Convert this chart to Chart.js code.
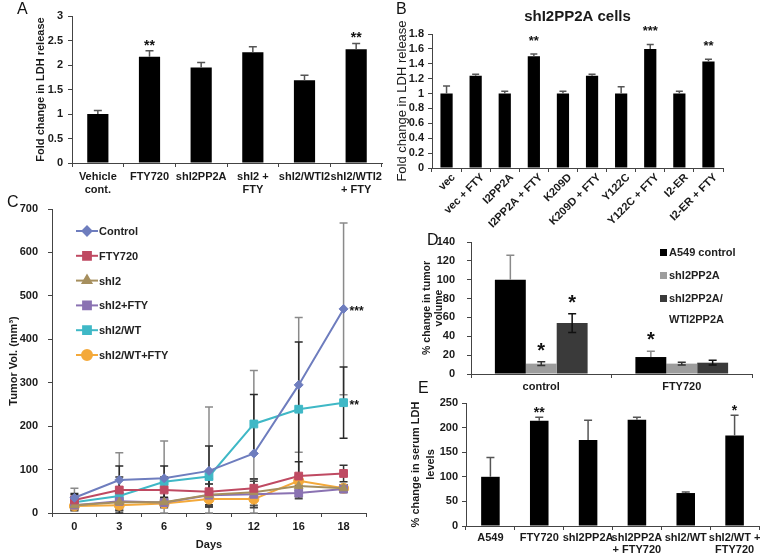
<!DOCTYPE html>
<html>
<head>
<meta charset="utf-8">
<title>LDH y volumen tumoral</title>
<script src="https://cdn.jsdelivr.net/npm/chart.js@4.4.1/dist/chart.umd.min.js"></script>
<style>
  html, body { margin: 0; padding: 0; background: #fff; }
  #pagina { position: relative; width: 760px; height: 559px; overflow: hidden; font-family: "Liberation Sans", Arial, sans-serif; }
  .panel { position: absolute; }
  .letra { position: absolute; font-size: 16px; line-height: 16px; color: #111; }
</style>
</head>
<body>
<div id="pagina">
  <div class="panel" style="left:0px;top:0px;width:388px;height:200px"><canvas id="grafA"></canvas></div>
  <div class="panel" style="left:380px;top:0px;width:380px;height:262px"><canvas id="grafB"></canvas></div>
  <div class="panel" style="left:0px;top:200px;width:380px;height:359px"><canvas id="grafC"></canvas></div>
  <div class="panel" style="left:400px;top:228px;width:360px;height:168px"><canvas id="grafD"></canvas></div>
  <div class="panel" style="left:400px;top:392px;width:360px;height:167px"><canvas id="grafE"></canvas></div>
  <div class="letra" style="left:17px;top:1px">A</div>
  <div class="letra" style="left:396px;top:1px">B</div>
  <div class="letra" style="left:7px;top:194px">C</div>
  <div class="letra" style="left:427px;top:232px">D</div>
  <div class="letra" style="left:418px;top:380px">E</div>
</div>
<script>
// ---- datos ----
// A: liberacion de LDH
const catA = [['Vehicle', 'cont.'], 'FTY720', 'shI2PP2A', ['shI2 +', 'FTY'], 'shI2/WTI2', ['shI2/WTI2', '+ FTY']];
const valA = [1.0, 2.17, 1.95, 2.26, 1.69, 2.32];
const errA = [0.07, 0.12, 0.1, 0.11, 0.1, 0.12];
const starA = ['', '**', '', '', '', '**'];

// B: celulas shI2PP2A
const catB = ['vec', 'vec + FTY', 'I2PP2A', 'I2PP2A + FTY', 'K209D', 'K209D + FTY', 'Y122C', 'Y122C + FTY', 'I2-ER', 'I2-ER + FTY'];
const valB = [1.0, 1.24, 1.0, 1.5, 1.0, 1.24, 1.0, 1.6, 1.0, 1.43];
const errB = [0.1, 0.02, 0.03, 0.03, 0.03, 0.02, 0.09, 0.06, 0.03, 0.03];
const starB = ['', '', '', '**', '', '', '', '***', '', '**'];

// C: volumen tumoral por dia
const dias = ['0', '3', '6', '9', '12', '16', '18'];
const volControl = [35, 76, 80, 97, 137, 295, 470];
const volFTY = [30, 53, 53, 49, 57, 85, 91];
const volShI2 = [18, 25, 25, 42, 48, 62, 57];
const volShI2FTY = [18, 27, 24, 41, 43, 46, 55];
const volWT = [25, 39, 72, 84, 205, 239, 254];
const volWTFTY = [16, 18, 22, 32, 32, 74, 57];
const errControl = [22, 63, 86, 147, 191, 155, 198];
const errFTY = [12, 30, 30, 30, 22, 33, 19];
const errShI2 = [8, 20, 10, 25, 30, 25, 8];
const errShI2FTY = [8, 18, 8, 26, 30, 13, 8];
const errWT = [20, 69, 36, 70, 68, 155, 82];
const errWTFTY = [8, 12, 10, 16, 20, 10, 8];
const starC = ['', '', '', '', '', '', '***'];
const starWT = ['', '', '', '', '', '', '**'];

// D: % cambio volumen tumoral
const gruposD = ['control', 'FTY720'];
const dA549 = [100, 18];
const dShI2 = [11, 11];
const dShI2WT = [54, 12];
const eA549 = [26, 6];
const eShI2 = [2, 1.5];
const eShI2WT = [10, 2.5];
const starA549 = ['', '*'];
const starShI2 = ['*', ''];
const starShI2WT = ['*', ''];

// E: LDH serico
const catE = ['A549', 'FTY720', 'shI2PP2A', ['shI2PP2A', '+ FTY720'], 'shI2/WT', ['shI2/WT +', 'FTY720']];
const valE = [100, 214, 175, 216, 67, 184];
const errE = [39, 7, 40, 5, 2, 41];
const starE = ['', '**', '', '', '', '*'];

// ---- configuracion general ----
Chart.defaults.font.family = '"Liberation Sans", Arial, sans-serif';
Chart.defaults.color = '#1a1a1a';
Chart.defaults.animation = false;
Chart.defaults.events = [];
Chart.defaults.plugins.legend.display = false;
Chart.defaults.plugins.tooltip.enabled = false;

const negrita = (size, lh) => ({ size: size, weight: 'bold', lineHeight: lh || 1.2 });
const colorEje = '#444';

// barras de error (solo hacia arriba en barras, completas en lineas)
function pintarErrores(chart) {
  const ctx = chart.ctx;
  const y = chart.scales.y;
  chart.data.datasets.forEach((ds, di) => {
    if (!ds.errores) return;
    const meta = chart.getDatasetMeta(di);
    ctx.save();
    ctx.strokeStyle = ds.colorError || '#555';
    ctx.lineWidth = ds.grosorError || 1.5;
    const cap = ds.capError || 4;
    meta.data.forEach((el, i) => {
      const v = ds.data[i];
      const e = ds.errores[i];
      if (!e) return;
      const yArriba = y.getPixelForValue(v + e);
      const yAbajo = y.getPixelForValue(ds.soloArriba ? v : Math.max(0, v - e));
      ctx.beginPath();
      ctx.moveTo(el.x, yArriba);
      ctx.lineTo(el.x, yAbajo);
      ctx.moveTo(el.x - cap, yArriba);
      ctx.lineTo(el.x + cap, yArriba);
      if (!ds.soloArriba) {
        ctx.moveTo(el.x - cap, yAbajo);
        ctx.lineTo(el.x + cap, yAbajo);
      }
      ctx.stroke();
    });
    ctx.restore();
  });
}

const barrasError = {
  id: 'barrasError',
  beforeDatasetsDraw(chart, args, opts) { if (opts.debajo) pintarErrores(chart); },
  afterDatasetsDraw(chart, args, opts) { if (!opts.debajo) pintarErrores(chart); }
};

// asteriscos de significancia
const estrellas = {
  id: 'estrellas',
  afterDatasetsDraw(chart, args, opts) {
    const ctx = chart.ctx;
    const y = chart.scales.y;
    chart.data.datasets.forEach((ds, di) => {
      if (!ds.estrellas) return;
      const meta = chart.getDatasetMeta(di);
      ctx.save();
      ctx.fillStyle = '#111';
      ctx.font = opts.fuente || 'bold 14px "Liberation Sans", Arial';
      meta.data.forEach((el, i) => {
        const s = ds.estrellas[i];
        if (!s) return;
        if (opts.lado === 'derecha') {
          ctx.textAlign = 'left';
          ctx.textBaseline = 'middle';
          ctx.fillText(s, el.x + (opts.dx || 5), el.y + (opts.dy || 0));
        } else {
          const tope = y.getPixelForValue(ds.data[i] + (ds.errores ? ds.errores[i] : 0));
          ctx.textAlign = 'center';
          ctx.textBaseline = 'alphabetic';
          ctx.fillText(s, el.x, tope - (opts.dy || 0));
        }
      });
      ctx.restore();
    });
  }
};

// leyenda con lineas y marcadores (panel C)
const leyendaLineas = {
  id: 'leyendaLineas',
  afterDraw(chart, args, opts) {
    if (!opts.activa) return;
    const ctx = chart.ctx;
    const x0 = chart.chartArea.left + opts.dx;
    let y0 = chart.chartArea.top + opts.dy;
    chart.data.datasets.forEach((ds) => {
      ctx.save();
      ctx.strokeStyle = ds.borderColor;
      ctx.fillStyle = ds.backgroundColor;
      ctx.lineWidth = 2;
      ctx.beginPath();
      ctx.moveTo(x0, y0);
      ctx.lineTo(x0 + 22, y0);
      ctx.stroke();
      Chart.helpers.drawPoint(ctx, { pointStyle: ds.pointStyle, radius: ds.pointRadius, rotation: 0, borderWidth: 1 }, x0 + 11, y0);
      ctx.fillStyle = '#222';
      ctx.font = 'bold 11px "Liberation Sans", Arial';
      ctx.textAlign = 'left';
      ctx.textBaseline = 'middle';
      ctx.fillText(ds.label, x0 + 23, y0 + 1);
      ctx.restore();
      y0 += opts.paso;
    });
  }
};

// leyenda con cuadritos (panel D)
const leyendaCajas = {
  id: 'leyendaCajas',
  afterDraw(chart, args, opts) {
    if (!opts.activa) return;
    const ctx = chart.ctx;
    const x0 = chart.chartArea.left + opts.dx;
    let y0 = chart.chartArea.top + opts.dy;
    chart.data.datasets.forEach((ds) => {
      ctx.save();
      ctx.fillStyle = ds.backgroundColor;
      ctx.fillRect(x0, y0 - 4, 7, 7);
      ctx.fillStyle = '#222';
      ctx.font = 'bold 11px "Liberation Sans", Arial';
      ctx.textAlign = 'left';
      ctx.textBaseline = 'middle';
      ds.lineasLeyenda.forEach((t, k) => ctx.fillText(t, x0 + 9, y0 + k * 21));
      ctx.restore();
      y0 += opts.paso;
    });
  }
};

Chart.register(barrasError, estrellas, leyendaLineas, leyendaCajas);

// caja: [izq, arriba, ancho, alto] del lienzo; area: [izq, arriba, der, abajo] del area de datos
function marco(caja, area) {
  return {
    padding: { left: 0, top: area[1] - caja[1], right: caja[0] + caja[2] - area[2], bottom: 0 },
    anchoY: area[0] - caja[0],
    altoX: caja[1] + caja[3] - area[3]
  };
}

const numero = (v) => String(Number(v.toFixed(2)));

function ejeY(m, min, max, paso, pad, titulo) {
  return {
    min: min, max: max,
    // ancho fijo y sin relleno extra, para que el area de datos quede donde la queremos
    afterFit: (s) => { s.width = m.anchoY; s.paddingTop = 0; s.paddingBottom = 0; },
    ticks: { stepSize: paso, padding: pad, font: negrita(11), color: '#1a1a1a', autoSkip: false, callback: numero },
    grid: { drawOnChartArea: false, drawTicks: true, tickLength: 4, color: colorEje },
    border: { color: colorEje, width: 1 },
    title: titulo
  };
}

function ejeX(m, pad, fuente, extra) {
  return Object.assign({
    type: 'category',
    offset: true,
    afterFit: (s) => { s.height = m.altoX; s.paddingLeft = 0; s.paddingRight = 0; },
    ticks: { padding: pad, font: fuente, color: '#1a1a1a', autoSkip: false, maxRotation: 0, minRotation: 0 },
    grid: { offset: true, drawOnChartArea: false, drawTicks: true, tickLength: 4, color: colorEje },
    border: { color: colorEje, width: 1 }
  }, extra || {});
}

// ---- A ----
const mA = marco([0, 0, 388, 200], [72, 16, 382, 163]);
new Chart(document.getElementById('grafA'), {
  type: 'bar',
  data: {
    labels: catA,
    datasets: [{
      data: valA, errores: errA, soloArriba: true, estrellas: starA,
      backgroundColor: '#000', categoryPercentage: 1, barPercentage: 0.41,
      colorError: '#555'
    }]
  },
  options: {
    responsive: true, maintainAspectRatio: false,
    layout: { padding: mA.padding },
    scales: {
      x: ejeX(mA, 3, negrita(11, 1.18)),
      y: ejeY(mA, 0, 3, 0.5, 5, { display: true, text: 'Fold change in LDH release', font: negrita(11), padding: { top: 34, bottom: 0 }, color: '#1a1a1a' })
    },
    plugins: { estrellas: { fuente: 'bold 14px "Liberation Sans", Arial', dy: 1 } }
  }
});

// ---- B ----
const mB = marco([380, 0, 380, 262], [432, 34, 723, 168]);
mB.padding.top = 0;
const ejeXB = ejeX(mB, -1, negrita(11));
ejeXB.ticks.minRotation = 45;
ejeXB.ticks.maxRotation = 45;
ejeXB.ticks.labelOffset = 7;
new Chart(document.getElementById('grafB'), {
  type: 'bar',
  data: {
    labels: catB,
    datasets: [{
      data: valB, errores: errB, soloArriba: true, estrellas: starB,
      backgroundColor: '#000', categoryPercentage: 1, barPercentage: 0.42,
      colorError: '#555', capError: 3.5
    }]
  },
  options: {
    responsive: true, maintainAspectRatio: false,
    layout: { padding: mB.padding },
    scales: {
      x: ejeXB,
      y: ejeY(mB, 0, 1.8, 0.2, 4, { display: true, text: 'Fold change in LDH release', font: { size: 13, weight: 'normal' }, padding: { top: 15, bottom: 0 }, color: '#1a1a1a' })
    },
    plugins: {
      title: { display: true, text: 'shI2PP2A cells', fullSize: false, font: { size: 15, weight: 'bold', lineHeight: 1.2 }, padding: { top: 8, bottom: 8 }, color: '#1a1a1a' },
      estrellas: { fuente: 'bold 13px "Liberation Sans", Arial', dy: 9 }
    }
  }
});

// ---- C ----
const mC = marco([0, 200, 380, 359], [52, 209, 366, 513]);
function serie(label, datos, errores, color, estilo, radio, colorError) {
  return {
    label: label, data: datos, errores: errores, colorError: colorError, capError: 4, grosorError: 1.5,
    borderColor: color, backgroundColor: color, borderWidth: 2, tension: 0,
    pointStyle: estilo, pointRadius: radio, pointBackgroundColor: color, pointBorderColor: color, pointBorderWidth: 1
  };
}
const sControl = serie('Control', volControl, errControl, '#6E7DBE', 'rectRot', 4.5, '#8a8a8a');
sControl.estrellas = starC;
const sWT = serie('shI2/WT', volWT, errWT, '#3FB8C6', 'rect', 5.5, '#2a2a2a');
sWT.estrellas = starWT;
new Chart(document.getElementById('grafC'), {
  type: 'line',
  data: {
    labels: dias,
    datasets: [
      sControl,
      serie('FTY720', volFTY, errFTY, '#BF4A62', 'rect', 5.5, '#333'),
      serie('shI2', volShI2, errShI2, '#A68F5E', 'triangle', 5, '#555'),
      serie('shI2+FTY', volShI2FTY, errShI2FTY, '#8A72B2', 'rect', 5.5, '#444'),
      sWT,
      serie('shI2/WT+FTY', volWTFTY, errWTFTY, '#F4A93A', 'circle', 5, '#444')
    ]
  },
  options: {
    responsive: true, maintainAspectRatio: false,
    layout: { padding: mC.padding },
    scales: {
      x: ejeX(mC, 3, negrita(11), { title: { display: true, text: 'Days', font: negrita(11), padding: { top: 0, bottom: 7 }, color: '#1a1a1a' } }),
      y: ejeY(mC, 0, 700, 100, 10, { display: true, text: 'Tumor Vol. (mm³)', font: negrita(11), padding: { top: 7, bottom: 0 }, color: '#1a1a1a' })
    },
    plugins: {
      barrasError: { debajo: true },
      estrellas: { fuente: 'bold 12px "Liberation Sans", Arial', lado: 'derecha', dx: 6, dy: 3 },
      leyendaLineas: { activa: true, dx: 24, dy: 22, paso: 24.8 }
    }
  }
});

// ---- D ----
const mD = marco([400, 228, 360, 168], [471, 242, 752, 374]);
new Chart(document.getElementById('grafD'), {
  type: 'bar',
  data: {
    labels: gruposD,
    datasets: [
      { label: 'A549 control', lineasLeyenda: ['A549 control'], data: dA549, errores: eA549, soloArriba: true, estrellas: starA549,
        backgroundColor: '#000', colorError: '#8a8a8a', capError: 4 },
      { label: 'shI2PP2A', lineasLeyenda: ['shI2PP2A'], data: dShI2, errores: eShI2, soloArriba: false, estrellas: starShI2,
        backgroundColor: '#9d9d9d', colorError: '#333', capError: 4 },
      { label: 'shI2PP2A/WTI2PP2A', lineasLeyenda: ['shI2PP2A/', 'WTI2PP2A'], data: dShI2WT, errores: eShI2WT, soloArriba: false, estrellas: starShI2WT,
        backgroundColor: '#3a3a3a', colorError: '#111', capError: 4 }
    ]
  },
  options: {
    responsive: true, maintainAspectRatio: false,
    layout: { padding: mD.padding },
    datasets: { bar: { categoryPercentage: 0.66, barPercentage: 1 } },
    scales: {
      x: ejeX(mD, 2, negrita(11)),
      y: ejeY(mD, 0, 140, 20, 12, { display: true, text: ['% change in tumor', 'volume'], font: negrita(10.5, 1.15), padding: { top: 21, bottom: 0 }, color: '#1a1a1a' })
    },
    plugins: {
      estrellas: { fuente: 'bold 20px "Liberation Sans", Arial', dy: 5 },
      leyendaCajas: { activa: true, dx: 189, dy: 11, paso: 23 }
    }
  }
});

// ---- E ----
const mE = marco([400, 392, 360, 167], [466, 403, 759, 526]);
new Chart(document.getElementById('grafE'), {
  type: 'bar',
  data: {
    labels: catE,
    datasets: [{
      data: valE, errores: errE, soloArriba: true, estrellas: starE,
      backgroundColor: '#000', categoryPercentage: 1, barPercentage: 0.38,
      colorError: '#555'
    }]
  },
  options: {
    responsive: true, maintainAspectRatio: false,
    layout: { padding: mE.padding },
    scales: {
      x: ejeX(mE, 2, negrita(11, 1.1)),
      y: ejeY(mE, 0, 250, 50, 4, { display: true, text: ['% change in serum LDH', 'levels'], font: negrita(11, 1.35), padding: { top: 9, bottom: 0 }, color: '#1a1a1a' })
    },
    plugins: { estrellas: { fuente: 'bold 14px "Liberation Sans", Arial', dy: 0 } }
  }
});
</script>
</body>
</html>
